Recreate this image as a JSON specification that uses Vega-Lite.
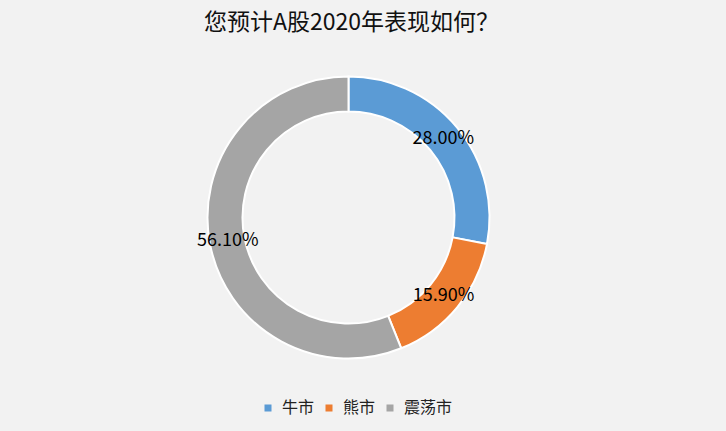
{
  "$schema": "https://vega.github.io/schema/vega-lite/v6.json",
  "autosize": "none",
  "width": 697,
  "height": 351,
  "padding": {"top": 42, "left": 0, "right": 29, "bottom": 38},
  "background": "#f2f2f2",
  "title": {
    "text": "您预计A股2020年表现如何？",
    "font": "Noto Sans CJK SC",
    "fontSize": 23,
    "fontWeight": "normal",
    "color": "#111111",
    "anchor": "middle",
    "dx": 3,
    "offset": 7
  },
  "data": {
    "values": [
      {"category": "牛市", "value": 28.0, "label": "28.00%", "order": 1},
      {"category": "熊市", "value": 15.9, "label": "15.90%", "order": 2},
      {"category": "震荡市", "value": 56.1, "label": "56.10%", "order": 3}
    ]
  },
  "encoding": {
    "theta": {"field": "value", "type": "quantitative", "stack": true},
    "order": {"field": "order", "type": "quantitative"}
  },
  "layer": [
    {
      "mark": {"type": "arc", "innerRadius": 106, "outerRadius": 141, "stroke": "#ffffff", "strokeWidth": 2},
      "encoding": {
        "color": {
          "field": "category",
          "type": "nominal",
          "sort": ["牛市", "熊市", "震荡市"],
          "scale": {"domain": ["牛市", "熊市", "震荡市"], "range": ["#5b9bd5", "#ed7d31", "#a5a5a5"]},
          "legend": {
            "title": null,
            "orient": "none",
            "direction": "horizontal",
            "legendX": 260,
            "legendY": 358,
            "symbolType": "square",
            "symbolSize": 49,
            "symbolStrokeWidth": 0,
            "labelFont": "Noto Sans CJK SC",
            "labelFontSize": 16,
            "labelColor": "#222222",
            "labelOffset": 6,
            "columnPadding": 6
          }
        }
      }
    },
    {
      "mark": {"type": "text", "radius": 123, "font": "Noto Sans CJK SC", "fontSize": 18, "color": "#000000"},
      "encoding": {
        "text": {"field": "label", "type": "nominal"}
      }
    }
  ]
}
